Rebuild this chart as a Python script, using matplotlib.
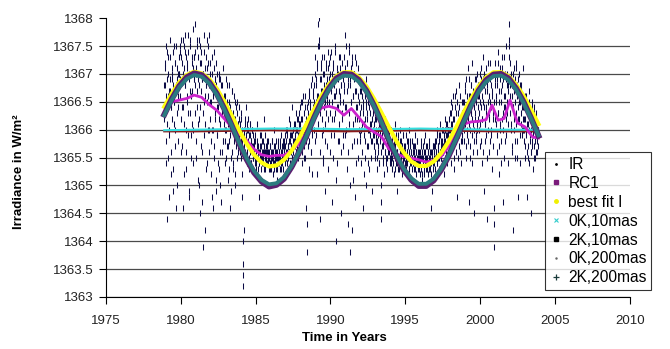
import numpy as np
import matplotlib
matplotlib.use("Agg")
import matplotlib.pyplot as plt
from matplotlib.lines import Line2D

plt.rcParams['font.family'] = ['Liberation Sans', 'DejaVu Sans']

# irradiance samples, 30 per year starting at 1978.9
ir_start = 1978.9
ir_per_year = 30
ir_values = [
    1366.2, 1367.1, 1366.8, 1365.4, 1367.5, 1366.9, 1364.4, 1366.6, 1367.3, 1366.0, 1365.9, 1367.6, 1366.7, 1365.2, 1366.4, 1367.0, 1366.9, 1364.9, 1367.4, 1366.5, 1366.1, 1367.2, 1365.7, 1366.8, 1367.5, 1366.3, 1365.0, 1367.0, 1366.6, 1367.3,
    1368.1, 1367.4, 1366.9, 1365.6, 1367.6, 1367.2, 1366.4, 1364.6, 1367.0, 1367.5, 1366.1, 1367.7, 1366.8, 1365.3, 1367.3, 1366.6, 1367.1, 1365.9, 1367.4, 1366.9, 1364.9, 1367.6, 1366.3, 1367.0, 1365.5, 1367.2, 1366.7, 1367.8, 1366.0, 1367.3,
    1367.3, 1366.8, 1367.9, 1365.8, 1367.1, 1366.4, 1367.5, 1365.1, 1366.9, 1367.6, 1366.2, 1364.5, 1367.2, 1366.7, 1367.4, 1365.6, 1366.9, 1363.9, 1367.0, 1366.5, 1367.7, 1366.1, 1364.2, 1367.3, 1366.8, 1365.4, 1367.1, 1366.6, 1367.5, 1366.0,
    1367.7, 1366.5, 1367.0, 1365.2, 1366.8, 1367.3, 1366.0, 1364.6, 1366.6, 1367.1, 1365.7, 1366.9, 1366.2, 1364.9, 1367.2, 1366.4, 1365.9, 1366.7, 1365.4, 1366.9, 1367.0, 1366.1, 1365.0, 1366.5, 1366.8, 1365.6, 1366.3, 1367.1, 1365.8, 1366.4,
    1366.6, 1366.0, 1365.4, 1366.9, 1366.3, 1365.7, 1366.5, 1365.1, 1366.2, 1366.8, 1365.8, 1364.6, 1366.4, 1366.1, 1365.5, 1366.7, 1366.0, 1365.3, 1366.3, 1365.9, 1366.6, 1365.0, 1366.2, 1365.7, 1366.4, 1365.9, 1366.5, 1365.6, 1366.1, 1365.8,
    1366.2, 1365.7, 1366.0, 1365.5, 1366.3, 1365.8, 1365.2, 1363.2, 1363.6, 1364.2, 1365.9, 1366.1, 1365.6, 1366.4, 1365.8, 1365.4, 1366.0, 1365.7, 1366.2, 1365.3, 1365.9, 1365.6, 1366.1, 1365.8, 1365.4, 1366.0, 1365.7, 1365.5, 1365.9, 1365.6,
    1365.6, 1365.4, 1365.8, 1365.5, 1365.3, 1365.7, 1366.1, 1365.5, 1365.6, 1364.8, 1365.4, 1365.7, 1365.5, 1365.9, 1365.3, 1365.6, 1365.5, 1365.8, 1365.4, 1365.6, 1366.2, 1365.5, 1365.3, 1365.7, 1365.6, 1365.4, 1365.8, 1365.5, 1365.6, 1365.3,
    1365.5, 1365.7, 1365.3, 1365.6, 1365.4, 1365.8, 1365.5, 1365.2, 1365.6, 1366.0, 1365.4, 1365.5, 1365.7, 1365.3, 1365.6, 1365.1, 1365.5, 1365.8, 1365.4, 1365.6, 1365.5, 1365.3, 1365.7, 1365.9, 1365.4, 1365.6, 1365.5, 1365.7, 1365.3, 1365.6,
    1365.6, 1365.8, 1365.4, 1365.7, 1365.5, 1366.0, 1365.6, 1365.9, 1365.3, 1365.7, 1366.2, 1365.6, 1365.8, 1365.4, 1365.9, 1365.7, 1366.4, 1365.5, 1365.8, 1365.6, 1366.1, 1365.4, 1365.9, 1365.7, 1366.3, 1365.6, 1365.8, 1366.0, 1365.5, 1366.2,
    1365.9, 1366.3, 1365.6, 1366.1, 1365.8, 1366.5, 1365.4, 1366.2, 1365.9, 1366.6, 1365.7, 1366.0, 1366.4, 1365.5, 1366.2, 1365.8, 1363.8, 1364.3, 1366.5, 1365.9, 1366.7, 1365.3, 1366.1, 1366.4, 1365.6, 1366.8, 1366.0, 1365.2, 1366.6, 1366.3,
    1366.8, 1366.2, 1367.3, 1365.8, 1366.9, 1366.5, 1365.2, 1367.1, 1366.6, 1367.9, 1368.0, 1367.5, 1366.3, 1364.4, 1366.9, 1367.2, 1365.9, 1366.7, 1367.0, 1365.5, 1366.4, 1367.3, 1366.1, 1364.9, 1366.8, 1367.1, 1365.7, 1366.5, 1367.4, 1366.2,
    1367.2, 1366.5, 1367.0, 1365.6, 1366.8, 1367.4, 1366.2, 1364.7, 1366.9, 1367.1, 1365.9, 1366.6, 1367.5, 1366.3, 1364.0, 1366.7, 1367.0, 1365.4, 1366.9, 1366.4, 1367.3, 1365.8, 1366.6, 1367.1, 1364.5, 1366.8, 1366.2, 1367.0, 1365.7, 1366.5,
    1367.3, 1366.7, 1367.7, 1365.9, 1367.0, 1366.4, 1365.3, 1367.2, 1366.8, 1364.3, 1367.5, 1366.1, 1366.9, 1363.8, 1367.1, 1366.5, 1365.7, 1367.3, 1366.6, 1365.1, 1366.9, 1367.0, 1366.2, 1364.8, 1366.7, 1367.2, 1365.8, 1366.4, 1366.9, 1365.5,
    1366.5, 1366.9, 1365.8, 1366.3, 1366.7, 1365.4, 1366.1, 1366.6, 1364.6, 1366.4, 1365.9, 1366.8, 1366.2, 1365.5, 1366.5, 1365.0, 1366.3, 1366.7, 1365.7, 1366.0, 1366.4, 1365.3, 1366.6, 1366.1, 1365.8, 1366.5, 1364.9, 1366.2, 1365.9, 1366.3,
    1366.1, 1365.7, 1366.3, 1365.5, 1365.9, 1366.2, 1365.3, 1365.8, 1366.0, 1365.6, 1366.3, 1365.4, 1365.9, 1366.1, 1365.0, 1364.4, 1365.7, 1366.2, 1365.5, 1365.8, 1366.0, 1365.2, 1365.9, 1365.6, 1366.1, 1365.4, 1365.8, 1365.5, 1366.0, 1365.7,
    1365.6, 1365.9, 1365.4, 1365.7, 1366.0, 1365.5, 1365.8, 1365.3, 1365.6, 1365.9, 1365.2, 1365.7, 1365.5, 1366.1, 1365.4, 1365.8, 1364.9, 1365.6, 1365.9, 1365.3, 1365.7, 1365.5, 1366.0, 1365.4, 1365.8, 1365.6, 1365.2, 1365.7, 1365.5, 1365.9,
    1365.5, 1365.7, 1365.3, 1365.6, 1365.9, 1365.4, 1365.6, 1365.2, 1365.8, 1365.5, 1366.0, 1365.3, 1365.7, 1365.4, 1365.6, 1365.1, 1365.5, 1365.8, 1365.4, 1365.6, 1365.3, 1365.7, 1365.5, 1365.9, 1365.2, 1365.6, 1365.4, 1365.8, 1365.5, 1365.3,
    1365.4, 1365.6, 1365.2, 1365.5, 1365.8, 1365.3, 1365.5, 1365.1, 1365.7, 1365.4, 1365.6, 1365.2, 1365.9, 1365.4, 1365.5, 1365.3, 1365.7, 1365.4, 1365.6, 1365.2, 1365.5, 1365.8, 1365.3, 1365.6, 1365.4, 1364.6, 1364.9, 1365.5, 1365.7, 1365.3,
    1365.5, 1365.7, 1365.3, 1365.8, 1365.5, 1365.6, 1366.0, 1365.4, 1365.7, 1365.5, 1365.9, 1365.3, 1365.6, 1366.1, 1365.5, 1365.8, 1365.4, 1365.7, 1366.0, 1365.6, 1365.2, 1365.8, 1366.2, 1365.5, 1365.9, 1365.7, 1366.1, 1365.4, 1365.8, 1366.0,
    1366.0, 1365.6, 1366.3, 1365.8, 1366.5, 1365.4, 1366.1, 1365.9, 1366.6, 1365.7, 1366.2, 1365.3, 1366.4, 1366.0, 1365.8, 1366.7, 1364.8, 1366.1, 1365.5, 1366.3, 1365.9, 1366.8, 1365.6, 1366.2, 1366.0, 1365.4, 1366.5, 1365.8, 1366.3, 1366.1,
    1366.3, 1365.8, 1366.7, 1366.1, 1365.5, 1366.9, 1366.4, 1365.9, 1367.1, 1366.2, 1364.7, 1366.6, 1366.0, 1365.7, 1366.8, 1366.3, 1365.4, 1367.2, 1366.1, 1366.5, 1365.8, 1364.5, 1366.7, 1366.2, 1365.9, 1366.9, 1366.0, 1365.6, 1366.4, 1366.8,
    1366.6, 1366.0, 1367.0, 1365.7, 1366.4, 1366.9, 1365.4, 1366.2, 1367.3, 1366.5, 1364.9, 1366.8, 1366.1, 1365.8, 1367.1, 1366.4, 1364.4, 1366.7, 1366.0, 1366.9, 1365.6, 1366.3, 1367.2, 1366.5, 1365.9, 1366.8, 1365.3, 1366.6, 1367.0, 1366.2,
    1363.9, 1364.3, 1366.8, 1367.2, 1366.1, 1366.5, 1365.6, 1366.9, 1367.4, 1366.3, 1365.2, 1366.7, 1366.0, 1367.1, 1365.8, 1366.5, 1367.3, 1366.2, 1364.7, 1366.9, 1366.4, 1365.5, 1367.0, 1366.6, 1365.9, 1367.5, 1366.3, 1366.8, 1365.4, 1366.7,
    1367.9, 1367.5, 1367.2, 1366.6, 1366.1, 1367.0, 1365.7, 1366.8, 1364.2, 1366.4, 1367.1, 1366.0, 1365.5, 1366.9, 1366.3, 1367.2, 1365.8, 1366.6, 1364.8, 1366.2, 1367.0, 1366.5, 1365.4, 1366.8, 1366.1, 1366.7, 1365.9, 1366.4, 1367.1, 1366.0,
    1366.2, 1365.8, 1366.6, 1365.5, 1366.4, 1366.0, 1364.8, 1366.5, 1365.7, 1366.1, 1366.7, 1365.4, 1366.3, 1365.9, 1364.5, 1366.2, 1365.6, 1366.5, 1365.8, 1366.0, 1365.3, 1366.4, 1365.7, 1366.1, 1365.5, 1365.9, 1366.3, 1365.6, 1365.8, 1366.0,
]
# the samples taken half a step later
ir_values_mid = [
    1366.8, 1366.3, 1367.2, 1365.8, 1366.6, 1367.4, 1366.1, 1365.5, 1367.0, 1366.7, 1364.8, 1366.9, 1367.3, 1366.4, 1365.6, 1367.1, 1366.2, 1366.8, 1365.3, 1367.5, 1366.5, 1366.0, 1367.2, 1366.7, 1364.6, 1366.9, 1367.1, 1366.4, 1365.8, 1367.0,
    1367.0, 1366.6, 1367.5, 1366.2, 1367.3, 1365.7, 1366.9, 1367.6, 1366.4, 1365.2, 1367.1, 1366.8, 1367.4, 1366.0, 1365.6, 1367.2, 1366.5, 1367.7, 1366.3, 1364.8, 1367.0, 1366.7, 1367.5, 1365.9, 1366.6, 1367.3, 1366.1, 1365.4, 1367.1, 1366.9,
    1366.9, 1367.4, 1366.3, 1367.0, 1365.5, 1367.6, 1366.7, 1366.1, 1367.3, 1365.0, 1366.8, 1367.5, 1366.4, 1365.7, 1367.2, 1366.9, 1364.7, 1367.0, 1366.3, 1367.4, 1365.9, 1366.6, 1367.1, 1365.3, 1366.8, 1367.6, 1366.5, 1366.0, 1367.2, 1365.6,
    1366.8, 1366.2, 1367.2, 1365.8, 1366.5, 1367.0, 1364.8, 1366.7, 1366.0, 1367.4, 1365.5, 1366.9, 1366.3, 1365.1, 1366.8, 1367.0, 1365.9, 1366.4, 1366.7, 1365.3, 1366.2, 1366.9, 1365.6, 1366.6, 1364.7, 1366.3, 1366.8, 1365.8, 1366.5, 1366.1,
    1366.3, 1365.8, 1366.6, 1366.0, 1365.5, 1366.4, 1366.8, 1365.7, 1366.1, 1365.3, 1366.5, 1365.9, 1366.2, 1364.9, 1366.3, 1365.6, 1366.7, 1366.0, 1365.4, 1366.2, 1365.8, 1366.5, 1365.2, 1366.0, 1365.9, 1366.3, 1365.5, 1366.1, 1365.7, 1366.4,
    1365.9, 1366.1, 1365.6, 1366.2, 1365.8, 1366.0, 1364.8, 1363.4, 1364.0, 1365.7, 1366.0, 1365.8, 1366.2, 1365.5, 1365.9, 1366.1, 1365.6, 1365.8, 1366.0, 1365.5, 1365.7, 1366.1, 1365.9, 1365.4, 1365.8, 1365.6, 1366.0, 1365.7, 1365.5, 1365.8,
    1365.7, 1365.5, 1365.9, 1365.4, 1365.6, 1365.8, 1365.5, 1365.3, 1365.7, 1365.6, 1365.4, 1365.9, 1365.6, 1365.5, 1365.7, 1365.4, 1365.8, 1365.6, 1365.5, 1365.3, 1365.7, 1365.6, 1365.9, 1365.4, 1365.5, 1365.7, 1365.6, 1365.4, 1365.8, 1365.5,
    1365.6, 1365.4, 1365.7, 1365.5, 1365.3, 1365.6, 1365.8, 1365.4, 1365.5, 1365.7, 1365.3, 1365.6, 1365.4, 1365.8, 1365.5, 1365.6, 1365.3, 1365.7, 1365.5, 1365.4, 1365.6, 1365.8, 1365.5, 1365.3, 1365.6, 1365.7, 1365.4, 1365.5, 1365.8, 1365.5,
    1365.7, 1365.5, 1365.9, 1365.6, 1365.8, 1365.4, 1366.0, 1365.7, 1365.5, 1365.8, 1365.6, 1365.9, 1366.1, 1365.6, 1365.7, 1365.5, 1365.9, 1366.0, 1365.7, 1365.8, 1365.5, 1366.1, 1365.8, 1365.6, 1366.0, 1365.7, 1366.2, 1365.9, 1365.8, 1366.1,
    1366.1, 1365.7, 1366.4, 1365.9, 1366.2, 1365.6, 1366.5, 1366.0, 1365.8, 1366.3, 1365.5, 1366.6, 1366.1, 1365.9, 1364.6, 1366.4, 1366.0, 1365.7, 1366.3, 1366.6, 1365.8, 1366.2, 1366.5, 1365.6, 1366.1, 1366.9, 1365.9, 1366.4, 1366.7, 1366.0,
    1366.5, 1367.0, 1366.3, 1366.8, 1365.9, 1367.2, 1366.6, 1366.1, 1367.5, 1367.6, 1366.4, 1366.9, 1365.6, 1367.1, 1366.7, 1366.2, 1367.3, 1366.0, 1365.4, 1366.8, 1367.0, 1366.5, 1365.8, 1367.2, 1366.3, 1366.9, 1366.6, 1365.3, 1367.1, 1366.8,
    1366.9, 1366.3, 1367.3, 1366.7, 1365.9, 1367.0, 1366.5, 1367.2, 1365.5, 1366.8, 1366.2, 1367.4, 1366.6, 1365.1, 1366.9, 1367.1, 1366.4, 1365.8, 1367.0, 1366.7, 1366.1, 1367.3, 1366.5, 1365.6, 1366.8, 1367.2, 1366.3, 1366.9, 1365.9, 1367.0,
    1366.8, 1367.1, 1366.4, 1367.5, 1366.0, 1366.7, 1367.2, 1365.6, 1366.9, 1367.4, 1366.3, 1365.0, 1366.8, 1367.0, 1366.5, 1364.2, 1367.2, 1366.6, 1366.1, 1367.0, 1365.8, 1366.7, 1367.3, 1366.4, 1365.4, 1366.9, 1366.2, 1367.1, 1366.6, 1366.0,
    1366.2, 1366.7, 1365.9, 1366.4, 1366.0, 1366.8, 1365.6, 1366.3, 1366.5, 1365.2, 1366.1, 1366.6, 1365.8, 1366.4, 1366.9, 1365.7, 1366.2, 1365.4, 1366.5, 1366.0, 1366.7, 1365.9, 1366.3, 1365.5, 1366.1, 1366.6, 1365.8, 1366.0, 1366.4, 1365.7,
    1365.9, 1366.2, 1365.6, 1366.0, 1365.8, 1366.3, 1365.5, 1365.9, 1365.7, 1366.1, 1365.4, 1366.0, 1365.8, 1365.6, 1364.7, 1365.9, 1366.1, 1365.7, 1365.4, 1366.0, 1365.8, 1365.6, 1366.2, 1365.5, 1365.9, 1365.7, 1365.3, 1365.8, 1365.6, 1365.9,
    1365.7, 1365.5, 1365.8, 1365.4, 1365.6, 1365.9, 1365.5, 1365.7, 1365.4, 1365.8, 1365.6, 1365.3, 1365.7, 1365.9, 1365.5, 1365.6, 1365.4, 1365.8, 1365.5, 1365.7, 1365.3, 1365.6, 1365.8, 1365.5, 1365.4, 1365.7, 1365.6, 1365.9, 1365.4, 1365.6,
    1365.6, 1365.4, 1365.7, 1365.5, 1365.3, 1365.6, 1365.8, 1365.4, 1365.5, 1365.7, 1365.3, 1365.6, 1365.5, 1365.8, 1365.4, 1365.6, 1365.3, 1365.5, 1365.7, 1365.4, 1365.6, 1365.5, 1365.3, 1365.7, 1365.4, 1365.6, 1365.8, 1365.5, 1365.4, 1365.6,
    1365.5, 1365.3, 1365.6, 1365.4, 1365.7, 1365.5, 1365.2, 1365.6, 1365.4, 1365.5, 1365.8, 1365.3, 1365.5, 1365.6, 1365.4, 1365.7, 1365.3, 1365.5, 1365.6, 1365.4, 1365.3, 1365.7, 1365.5, 1365.4, 1365.6, 1365.2, 1365.5, 1365.6, 1365.4, 1365.7,
    1365.6, 1365.4, 1365.7, 1365.5, 1365.8, 1365.6, 1365.4, 1365.9, 1365.6, 1365.7, 1365.5, 1365.8, 1365.6, 1365.9, 1365.7, 1365.5, 1365.8, 1366.0, 1365.7, 1365.6, 1365.9, 1365.7, 1366.0, 1365.8, 1365.6, 1366.1, 1365.9, 1365.7, 1366.0, 1365.9,
    1366.2, 1365.8, 1366.0, 1365.6, 1366.3, 1366.1, 1365.7, 1366.4, 1365.9, 1366.2, 1365.5, 1366.0, 1366.6, 1365.8, 1366.3, 1365.6, 1366.1, 1366.5, 1365.9, 1366.0, 1366.4, 1365.7, 1366.2, 1366.6, 1365.8, 1366.1, 1366.3, 1365.9, 1366.5, 1366.2,
    1366.0, 1366.5, 1366.2, 1366.8, 1365.7, 1366.3, 1366.6, 1366.0, 1365.8, 1366.4, 1366.9, 1366.1, 1365.5, 1366.6, 1366.3, 1366.8, 1365.9, 1366.2, 1366.7, 1365.6, 1366.4, 1366.0, 1366.9, 1366.3, 1365.8, 1366.5, 1366.1, 1367.0, 1366.2, 1366.6,
    1366.3, 1366.8, 1366.1, 1366.5, 1367.1, 1365.8, 1366.6, 1366.2, 1366.9, 1365.6, 1366.4, 1367.0, 1366.1, 1366.7, 1365.9, 1366.3, 1366.8, 1365.5, 1366.5, 1367.2, 1366.2, 1366.6, 1365.8, 1366.9, 1366.4, 1366.0, 1366.7, 1367.0, 1366.3, 1365.7,
    1364.6, 1366.5, 1366.9, 1366.2, 1367.0, 1366.6, 1365.9, 1366.8, 1366.3, 1367.2, 1365.7, 1366.5, 1366.9, 1366.1, 1366.7, 1365.4, 1366.8, 1367.1, 1366.3, 1366.0, 1366.6, 1367.3, 1365.8, 1366.4, 1366.9, 1366.2, 1367.0, 1366.5, 1366.1, 1366.8,
    1367.6, 1367.3, 1366.8, 1366.3, 1366.9, 1366.0, 1366.6, 1365.6, 1366.4, 1367.0, 1366.2, 1366.7, 1365.8, 1366.5, 1367.1, 1366.1, 1366.8, 1365.5, 1366.4, 1366.9, 1366.2, 1366.6, 1365.9, 1366.5, 1366.3, 1366.8, 1366.0, 1366.6, 1366.2, 1366.4,
    1366.0, 1366.4, 1365.7, 1366.2, 1365.9, 1366.6, 1365.6, 1366.1, 1366.3, 1365.5, 1366.0, 1366.5, 1365.8, 1366.2, 1365.6, 1366.0, 1366.4, 1365.7, 1366.1, 1365.9, 1366.3, 1365.5, 1366.0, 1365.8, 1366.2, 1365.6, 1366.1, 1365.9, 1365.7, 1366.0,
]

# model curves, sampled every half year from 1978.9
fit_start = 1978.9
fit_step = 0.5
best_fit = [
    1366.41, 1366.65, 1366.85, 1366.98, 1367.04, 1367.01, 1366.91, 1366.74, 1366.51, 1366.26,
    1365.99, 1365.75, 1365.55, 1365.41, 1365.34, 1365.36, 1365.46, 1365.62, 1365.84, 1366.10,
    1366.36, 1366.61, 1366.81, 1366.96, 1367.03, 1367.03, 1366.94, 1366.78, 1366.56, 1366.31,
    1366.05, 1365.80, 1365.59, 1365.43, 1365.35, 1365.35, 1365.43, 1365.58, 1365.79, 1366.04,
    1366.31, 1366.56, 1366.78, 1366.94, 1367.03, 1367.03, 1366.96, 1366.81, 1366.61, 1366.36,
    1366.10,
]
k2_200mas = [
    1366.26, 1366.53, 1366.76, 1366.91, 1366.98, 1366.95, 1366.83, 1366.63, 1366.37, 1366.08,
    1365.77, 1365.49, 1365.26, 1365.10, 1365.02, 1365.04, 1365.15, 1365.35, 1365.60, 1365.89,
    1366.20, 1366.48, 1366.72, 1366.89, 1366.97, 1366.96, 1366.86, 1366.68, 1366.43, 1366.14,
    1365.83, 1365.55, 1365.30, 1365.13, 1365.03, 1365.03, 1365.12, 1365.30, 1365.54, 1365.83,
    1366.14, 1366.43, 1366.68, 1366.86, 1366.96, 1366.97, 1366.89, 1366.72, 1366.48, 1366.20,
    1365.90,
]
k2_10mas = [
    1366.27, 1366.55, 1366.78, 1366.94, 1367.01, 1366.98, 1366.85, 1366.65, 1366.38, 1366.08,
    1365.76, 1365.47, 1365.23, 1365.07, 1364.98, 1365.01, 1365.12, 1365.33, 1365.59, 1365.89,
    1366.21, 1366.50, 1366.74, 1366.92, 1367.00, 1366.99, 1366.89, 1366.70, 1366.44, 1366.14,
    1365.82, 1365.53, 1365.28, 1365.10, 1364.99, 1364.99, 1365.09, 1365.28, 1365.53, 1365.83,
    1366.14, 1366.44, 1366.70, 1366.89, 1366.99, 1367.00, 1366.92, 1366.74, 1366.50, 1366.21,
    1365.89,
]

rc1_years = [1979.4, 1979.9, 1980.4, 1980.9, 1981.4, 1981.9, 1982.4, 1982.9, 1983.4, 1983.9,
             1984.4, 1984.9, 1985.4, 1985.9, 1986.4, 1986.9, 1987.4, 1987.9, 1988.4, 1988.9,
             1989.4, 1989.9, 1990.4, 1990.9, 1991.4, 1991.9, 1992.4, 1992.9, 1993.4, 1993.9,
             1994.4, 1994.9, 1995.4, 1995.9, 1996.4, 1996.9, 1997.4, 1997.9, 1998.4, 1998.9,
             1999.4, 1999.9, 2000.4, 2000.8, 2001.2, 2001.6, 2002.0, 2002.5, 2003.0, 2003.5, 2003.9]
rc1 = [1366.50, 1366.53, 1366.56, 1366.62, 1366.58, 1366.45, 1366.35, 1366.20, 1366.05, 1365.92,
       1365.81, 1365.65, 1365.55, 1365.52, 1365.54, 1365.54, 1365.63, 1365.75, 1365.95, 1366.20,
       1366.39, 1366.42, 1366.38, 1366.26, 1366.38, 1366.22, 1366.05, 1365.96, 1365.88, 1365.66,
       1365.56, 1365.52, 1365.49, 1365.46, 1365.42, 1365.45, 1365.52, 1365.70, 1365.98, 1366.10,
       1366.14, 1366.15, 1366.18, 1366.44, 1366.17, 1366.20, 1366.53, 1366.12, 1366.05, 1365.87, 1365.85]

flat_years = [1978.9, 1981.0, 1983.5, 1986.0, 1988.5, 1991.0, 1993.5, 1996.0, 1998.5, 2001.0, 2003.9]
k0_10mas = [1365.99, 1366.00, 1366.01, 1366.02, 1366.02, 1366.01, 1366.01, 1366.02, 1366.01, 1366.00, 1366.00]
k0_200mas = [1365.97, 1365.97, 1365.98, 1365.99, 1365.98, 1365.97, 1365.98, 1365.99, 1365.98, 1365.97, 1365.97]

ir_t = ir_start + np.arange(len(ir_values)) / ir_per_year
ir_t_mid = ir_t + 0.5 / ir_per_year
fit_t = fit_start + fit_step * np.arange(len(best_fit))

fig = plt.figure(figsize=(6.7, 3.49), dpi=100)
ax = fig.add_axes([0.158, 0.149, 0.782, 0.799])

ax.plot(np.concatenate([ir_t, ir_t_mid]), ir_values + ir_values_mid, ls='none',
        marker='|', ms=5, mew=0.75, color='#0a0a45', zorder=2)
ax.plot(flat_years, k0_200mas, color='#8b1a1a', lw=1.5, zorder=3)
ax.plot(flat_years, k0_10mas, color='#33e0e0', lw=1.5, zorder=3)
ax.plot(rc1_years, rc1, color='#cc22cc', lw=2, zorder=4)
ax.plot(fit_t, best_fit, color='#ffff10', lw=3, zorder=5)
ax.plot(fit_t, k2_10mas, color='#5a2070', lw=4.2, zorder=6)
ax.plot(fit_t, k2_200mas, color='#2b7b7f', lw=2.8, zorder=7)

ax.set_xlim(1975, 2010)
ax.set_ylim(1363, 1368)
ax.set_xticks(np.arange(1975, 2011, 5))
ax.set_yticks(np.arange(1363, 1368.01, 0.5))
ax.yaxis.set_major_formatter(plt.FormatStrFormatter('%g'))
ax.tick_params(labelsize=9.5, labelcolor='#222222', length=5, width=0.8, direction='out')
ax.tick_params(axis='x', pad=8)
ax.spines['top'].set_visible(False)
ax.spines['right'].set_visible(False)
ax.yaxis.grid(True, color='#4a4a4a', lw=0.9, zorder=0)
ax.get_ygridlines()[-1].set_visible(False)
ax.set_axisbelow(True)

ax.set_xlabel('Time in Years', fontsize=9.5, fontweight='bold')
ax.set_ylabel('Irradiance in W/m²', fontsize=9.5, fontweight='bold')
ax.xaxis.set_label_coords(0.456, -0.125)
ax.yaxis.set_label_coords(-0.155, 0.448)

handles = [
    Line2D([], [], ls='none', marker='.', ms=2, color='black'),
    Line2D([], [], ls='none', marker='s', ms=2.5, color='#7a1a7a'),
    Line2D([], [], ls='none', marker='o', ms=2.5, color='#f0f000'),
    Line2D([], [], ls='none', marker='x', ms=3, mew=0.8, color='#33cccc'),
    Line2D([], [], ls='none', marker='s', ms=3, color='black'),
    Line2D([], [], ls='none', marker='.', ms=1.5, color='#666666'),
    Line2D([], [], ls='none', marker='+', ms=4, mew=0.9, color='#1a3a3a'),
]
labels = ['IR', 'RC1', 'best fit I', '0K,10mas', '2K,10mas', '0K,200mas', '2K,200mas']
leg = fig.legend(handles, labels, loc='lower left', bbox_to_anchor=(545 / 670, 59 / 349),
                 fontsize=11.2, frameon=True, fancybox=False, borderaxespad=0,
                 handlelength=0.8, handletextpad=0.4, labelspacing=0.25, borderpad=0.3)
leg.get_frame().set_edgecolor('black')
leg.get_frame().set_linewidth(0.8)

fig.savefig('out.png', dpi=100)
